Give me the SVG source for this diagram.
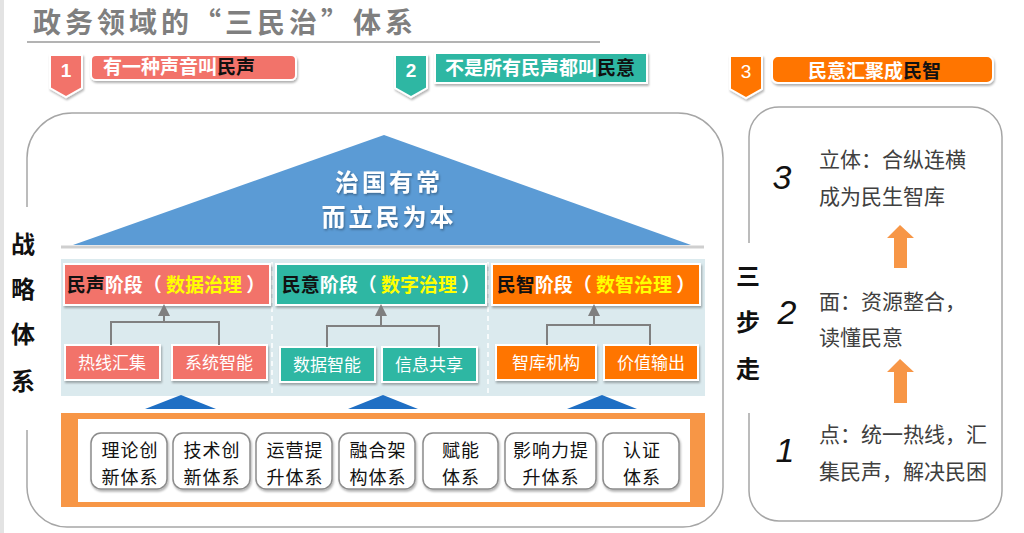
<svg xmlns="http://www.w3.org/2000/svg" width="1024" height="533" viewBox="0 0 1024 533">
<defs>
<filter id="sh" x="-10%" y="-20%" width="130%" height="160%"><feDropShadow dx="1" dy="2" stdDeviation="1.2" flood-color="#000" flood-opacity="0.3"/></filter>
<filter id="tsh" x="-10%" y="-20%" width="130%" height="160%"><feDropShadow dx="1" dy="1.5" stdDeviation="1" flood-color="#000" flood-opacity="0.35"/></filter>
<marker id="ah" viewBox="0 0 6 6" refX="3" refY="3" markerWidth="6" markerHeight="6" orient="auto"><path d="M0,0 L6,3 L0,6 Z" fill="#7f7f7f"/></marker>
</defs>
<style>
text{font-family:'Noto Sans CJK SC','Noto Sans',sans-serif}
.bold{font-weight:700}
.badge{stroke:#fff;stroke-width:2;filter:url(#sh)}
.num{font-family:'Liberation Sans',sans-serif;font-size:19px;fill:#fff;text-anchor:middle}
.lbl{font-size:19px;font-weight:700;fill:#fff}
.hdr{stroke:#fff;stroke-width:2;filter:url(#sh)}
.htx{font-size:19px;font-weight:700;fill:#fff;text-anchor:middle}
.sub{stroke:#fff;stroke-width:2;filter:url(#sh)}
.stx{font-size:17px;fill:#fff;text-anchor:middle}
.red{fill:#f2736a}
.teal{fill:#2db7a3}
.org{fill:#ff7500}
.conn{fill:none;stroke:#808080;stroke-width:2}
.box7{fill:#fff;stroke:#8c8c8c;stroke-width:1.5;filter:url(#sh)}
.b7t{font-size:18px;fill:#111;text-anchor:middle;letter-spacing:1px}
.side{font-size:24px;font-weight:700;fill:#111;text-anchor:middle}
.rt{font-size:21px;fill:#404040}
.big{font-family:'Liberation Sans',sans-serif;font-style:italic;font-size:34px;fill:#111;text-anchor:middle}
.frame{fill:none;stroke:#a6a6a6;stroke-width:1.5}
.uparr{fill:#f79646}
.bt{fill:#1f6fc4}
.roof{font-size:24px;font-weight:700;fill:#fff;text-anchor:middle;letter-spacing:3px}
</style>
<rect x="0" y="0" width="1024" height="533" fill="#fff"/>
<rect x="0" y="0" width="4" height="533" fill="#e3e3e3"/>

<g id="title">
<text x="33" y="33" font-size="28" class="bold" fill="#7f7f7f" letter-spacing="4">政务领域的“三民治”体系</text>
<line x1="27" y1="42" x2="600" y2="42" stroke="#9a9a9a" stroke-width="1.5"/>
</g>

<g id="badge1">
<path class="badge red" d="M50,55 H82 V88 L66,97 L50,88 Z"/>
<text class="num bold" x="66" y="77">1</text>
<rect class="badge red" x="91" y="55" width="205" height="25" rx="5"/>
<text class="lbl" x="103" y="74">有一种声音叫<tspan fill="#111">民声</tspan></text>
</g>
<g id="badge2">
<path class="badge teal" d="M395,55 H427 V88 L411,97 L395,88 Z"/>
<text class="num bold" x="411" y="77">2</text>
<rect class="badge teal" x="435" y="53" width="212" height="30"/>
<text class="lbl" x="445" y="75">不是所有民声都叫<tspan fill="#111">民意</tspan></text>
</g>
<g id="badge3">
<path class="badge org" d="M730,56 H762 V89 L746,98 L730,89 Z"/>
<text class="num" x="746" y="78">3</text>
<rect class="badge org" x="772" y="56" width="221" height="27" rx="6"/>
<text class="lbl" x="808" y="78">民意汇聚成<tspan fill="#111">民智</tspan></text>
</g>

<g id="strategy-frame">
<path class="frame" d="M27,207 V158 A45,45 0 0 1 72,113 H678 A45,45 0 0 1 723,158 V487 A40,40 0 0 1 683,527 H67 A40,40 0 0 1 27,487 V430"/>
<text class="side" x="23" y="253">战</text>
<text class="side" x="23" y="298">略</text>
<text class="side" x="23" y="343">体</text>
<text class="side" x="23" y="390">系</text>
</g>

<g id="roof">
<line x1="61" y1="247" x2="704" y2="247" stroke="#cfcfcf" stroke-width="3"/>
<path d="M384,135 L691,245 L73,245 Z" fill="#5b9bd5"/>
<text class="roof" x="389" y="191" filter="url(#tsh)">治国有常</text>
<text class="roof" x="389" y="226" filter="url(#tsh)">而立民为本</text>
</g>

<g id="stage-panel">
<rect x="61" y="259" width="644" height="137" fill="#dbeaee"/>
<line x1="272" y1="262" x2="272" y2="394" stroke="#fff" stroke-width="1.5" stroke-dasharray="5,4"/>
<line x1="488" y1="262" x2="488" y2="394" stroke="#fff" stroke-width="1.5" stroke-dasharray="5,4"/>
</g>

<g id="stage1">
<rect class="hdr red" x="64" y="264" width="206" height="41"/>
<text class="htx" x="166" y="292"><tspan fill="#111">民声</tspan>阶段（ <tspan fill="#ffff00">数据治理</tspan> ）</text>
<rect class="sub red" x="65" y="345" width="95" height="35"/>
<text class="stx" x="112" y="369">热线汇集</text>
<rect class="sub red" x="172" y="345" width="95" height="35"/>
<text class="stx" x="219" y="369">系统智能</text>
</g>
<g id="stage2">
<rect class="hdr teal" x="276" y="264" width="210" height="41"/>
<text class="htx" x="381" y="292"><tspan fill="#111">民意</tspan>阶段（ <tspan fill="#ffff00">数字治理</tspan> ）</text>
<rect class="sub teal" x="280" y="347" width="95" height="35"/>
<text class="stx" x="327" y="371">数据智能</text>
<rect class="sub teal" x="382" y="347" width="95" height="35"/>
<text class="stx" x="429" y="371">信息共享</text>
</g>
<g id="stage3">
<rect class="hdr org" x="492" y="264" width="208" height="41"/>
<text class="htx" x="596" y="292"><tspan fill="#111">民智</tspan>阶段（ <tspan fill="#ffff00">数智治理</tspan> ）</text>
<rect class="sub org" x="496" y="345" width="100" height="35"/>
<text class="stx" x="546" y="369">智库机构</text>
<rect class="sub org" x="604" y="345" width="94" height="35"/>
<text class="stx" x="651" y="369">价值输出</text>
</g>

<g id="connectors">
<path class="conn" d="M111,345 V322 H219 V345"/>
<path class="conn" d="M164,322 V310" marker-end="url(#ah)"/>
<path class="conn" d="M327,347 V326 H439 V347"/>
<path class="conn" d="M381,326 V310" marker-end="url(#ah)"/>
<path class="conn" d="M547,345 V325 H650 V345"/>
<path class="conn" d="M594,325 V310" marker-end="url(#ah)"/>
</g>

<g id="support-arrows">
<path class="bt" d="M181,395 L216,409 L145,409 Z"/>
<path class="bt" d="M383,395 L418,409 L348,409 Z"/>
<path class="bt" d="M602,395 L637,409 L567,409 Z"/>
</g>

<g id="foundation">
<rect x="61" y="413" width="644" height="94" fill="#f79646"/>
<rect x="78" y="419" width="612" height="83" fill="#fff"/>
</g>
<g id="sys1"><rect class="box7" x="91" y="433" width="76" height="56" rx="10"/><text class="b7t" x="130" y="457">理论创</text><text class="b7t" x="130" y="484">新体系</text></g>
<g id="sys2"><rect class="box7" x="173" y="433" width="77" height="56" rx="10"/><text class="b7t" x="212" y="457">技术创</text><text class="b7t" x="212" y="484">新体系</text></g>
<g id="sys3"><rect class="box7" x="256" y="433" width="76" height="56" rx="10"/><text class="b7t" x="295" y="457">运营提</text><text class="b7t" x="295" y="484">升体系</text></g>
<g id="sys4"><rect class="box7" x="339" y="433" width="76" height="56" rx="10"/><text class="b7t" x="378" y="457">融合架</text><text class="b7t" x="378" y="484">构体系</text></g>
<g id="sys5"><rect class="box7" x="423" y="433" width="75" height="56" rx="10"/><text class="b7t" x="461" y="457">赋能</text><text class="b7t" x="461" y="484">体系</text></g>
<g id="sys6"><rect class="box7" x="505" y="433" width="91" height="56" rx="10"/><text class="b7t" x="551" y="457">影响力提</text><text class="b7t" x="551" y="484">升体系</text></g>
<g id="sys7"><rect class="box7" x="603" y="433" width="76" height="56" rx="10"/><text class="b7t" x="642" y="457">认证</text><text class="b7t" x="642" y="484">体系</text></g>

<g id="steps-frame">
<path class="frame" d="M749,243 V137 A30,30 0 0 1 779,107 H972 A30,30 0 0 1 1002,137 V491 A30,30 0 0 1 972,521 H779 A30,30 0 0 1 749,491 V413"/>
<text class="side" x="748" y="285">三</text>
<text class="side" x="748" y="331">步</text>
<text class="side" x="748" y="378">走</text>
</g>
<g id="step3">
<text class="big" x="782" y="189">3</text>
<text class="rt" x="819" y="167">立体：合纵连横</text>
<text class="rt" x="819" y="204">成为民生智库</text>
</g>
<g id="step2">
<text class="big" x="787" y="324">2</text>
<text class="rt" x="819" y="309">面：资源整合，</text>
<text class="rt" x="819" y="345">读懂民意</text>
</g>
<g id="step1">
<text class="big" x="785" y="462">1</text>
<text class="rt" x="819" y="442">点：统一热线，汇</text>
<text class="rt" x="819" y="479">集民声，解决民困</text>
</g>
<g id="step-arrows">
<path class="uparr" d="M900,225 L914,238 L907,238 V268 H894 V238 L887,238 Z"/>
<path class="uparr" d="M900,359 L914,372 L907,372 V403 H894 V372 L887,372 Z"/>
</g>
</svg>
